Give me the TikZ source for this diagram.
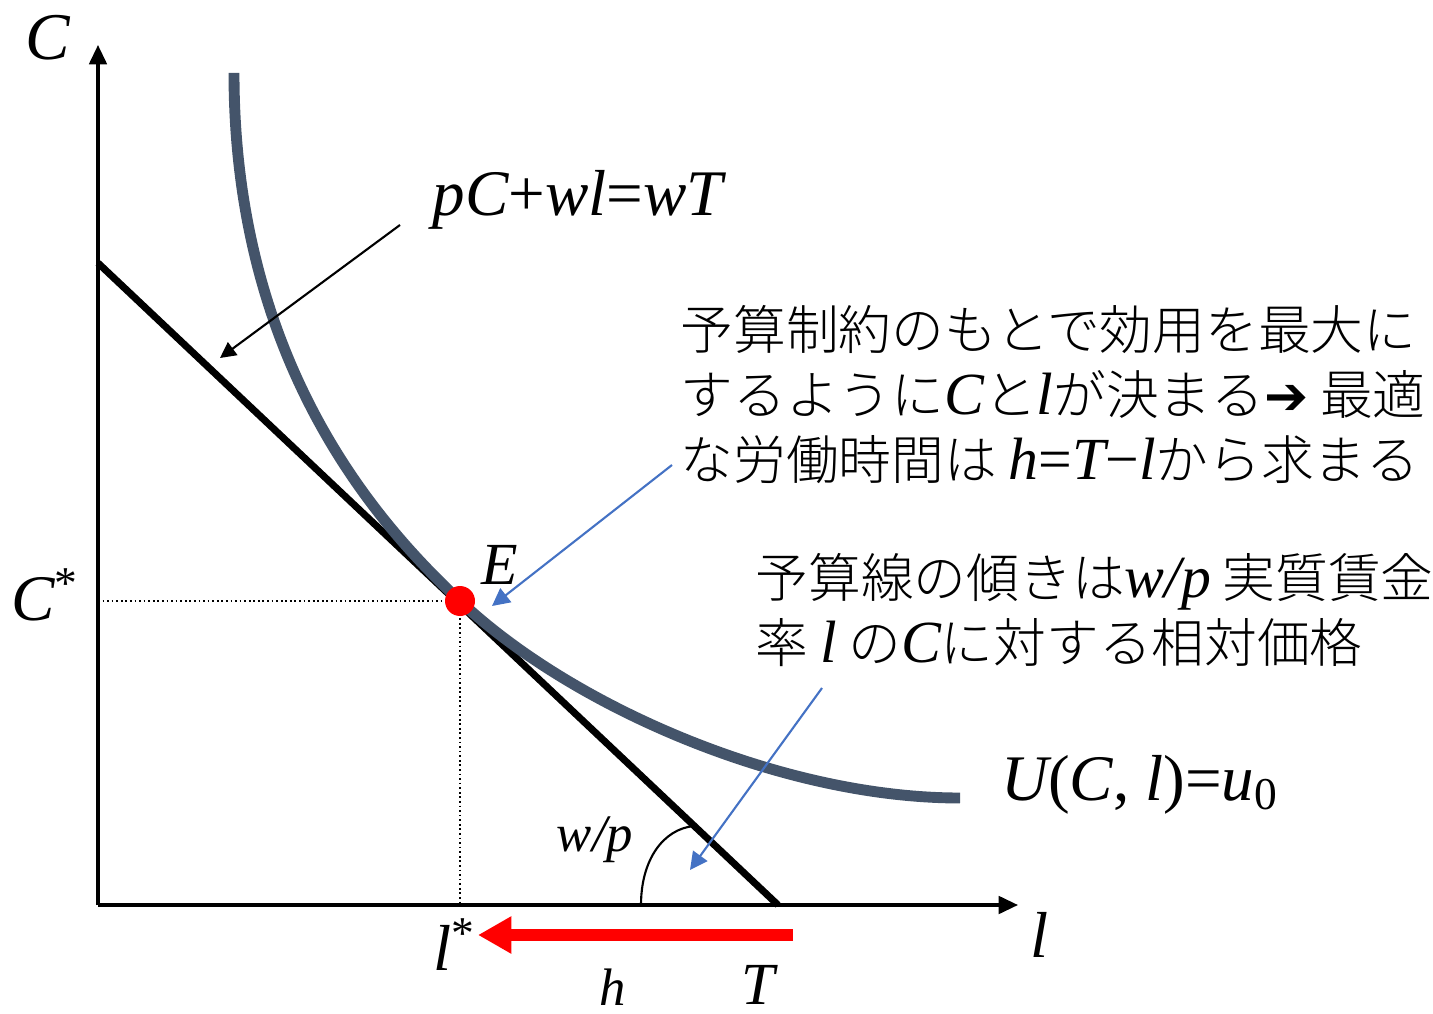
\documentclass[tikz,border=0pt]{standalone}
\usepackage{fontspec}
\setmainfont{Liberation Serif}
\newfontfamily\jp{Noto Sans CJK JP}[UprightFont=* Light]
\newfontfamily\symfont{DejaVu Sans}
\usepackage{tikz}
\usetikzlibrary{arrows.meta}
\definecolor{curvegray}{HTML}{44546A}
\definecolor{noteblue}{HTML}{4472C4}
\newcommand{\mv}[1]{{\rmfamily\itshape\fontsize{17}{18.5}\selectfont #1}}
\newcommand{\mr}[1]{{\rmfamily\fontsize{17}{18.5}\selectfont #1}}

\begin{document}
\begin{tikzpicture}[
		axis/.style={line width=0.9pt, -{Triangle[width=5pt,length=5.5pt]}},
		pointer/.style={line width=0.6pt, -{Triangle[width=4.5pt,length=4.5pt]}},
		bluepointer/.style={noteblue, line width=0.6pt, -{Triangle[width=5pt,length=5pt]}},
		lbl/.style={font=\fontsize{18.5}{18.5}\selectfont\itshape, inner sep=0pt},
		note/.style={font=\jp\fontsize{15}{18.5}\selectfont, align=left, anchor=west, inner sep=0pt}
	]
		\useasboundingbox (-0.98,-1.08) rectangle (13.35,9.05);

		% 軸
		\coordinate (O) at (0,0);
		\coordinate (Ytop) at (0,8.60);
		\coordinate (Xend) at (9.20,0);
		\draw[axis] (O) -- (Ytop);
		\draw[axis] (O) -- (Xend);
		\node[lbl, font=\fontsize{19}{19}\selectfont\itshape] (Clab) at (-0.50,8.67) {C};
		\node[lbl] (llab) at (9.42,-0.30) {l};

		% 予算線
		\coordinate (Bc) at (0,6.42);
		\coordinate (Bt) at (6.80,0);
		\draw[line width=2pt] (Bc) -- (Bt);

		% 無差別曲線
		\coordinate (E) at (3.62,3.04);
		\coordinate (Utop) at (1.36,8.32);
		\coordinate (Uend) at (8.62,1.07);
		\draw[curvegray, line width=3.1pt] (Utop) .. controls (1.36,5.30) and (2.92,3.70) .. (E)
			.. controls (4.72,2.00) and (6.82,1.07) .. (Uend);

		% 均衡点 E
		\coordinate (Ecy) at (0,3.04);
		\coordinate (Elx) at (3.62,0);
		\draw[line width=0.5pt, dash pattern=on 0.5pt off 0.8pt] (Ecy) -- (E) -- (Elx);
		\fill[red] (E) circle (0.15);
		\node[lbl, font=\fontsize{17}{17}\selectfont\itshape] (Elab) at (4.02,3.40) {E};
		\node[lbl] (Cstar) at (-0.53,3.10) {C\textsuperscript{\upshape *}};
		\node[lbl] (lstar) at (3.57,-0.40) {l\textsuperscript{\upshape *}};
		\node[lbl, font=\fontsize{17}{17}\selectfont\itshape] (Tlab) at (6.60,-0.80) {T};

		% 労働時間 h
		\coordinate (Hs) at (6.95,-0.30);
		\coordinate (Hl) at (3.80,-0.30);
		\draw[red, line width=3.2pt, -{Triangle[width=10pt,length=9.5pt]}] (Hs) -- (Hl);
		\node[lbl, font=\fontsize{15}{15}\selectfont\itshape] (hlab) at (5.15,-0.82) {h};

		% 傾き
		\draw[line width=0.6pt] (5.43,0) .. controls (5.43,0.45) and (5.65,0.76) .. (5.96,0.79);
		\node[lbl, font=\fontsize{15}{15}\selectfont\itshape] (wplab) at (4.97,0.65) {w/p};

		% 式のラベル
		\node[lbl] (budget) at (4.80,7.05) {pC{\upshape +}wl{\upshape =}wT};
		\coordinate (bs) at (3.02,6.80);
		\coordinate (bt) at (1.22,5.47);
		\draw[pointer] (bs) -- (bt);
		\node[lbl] (ulab) at (10.42,1.20) {U{\upshape (}C{\upshape ,} l{\upshape )=}u{\upshape\textsubscript{0}}};

		% 説明文
		\node[note] (maxnote) at (5.82,5.10) {予算制約のもとで効用を最大に\\するように\mv{C}と\mv{l}が決まる{\symfont\bfseries ➔} 最適\\な労働時間は \mv{h}\mr{=}\mv{T}\mr{−}\mv{l}から求まる};
		\coordinate (ms) at (5.74,4.40);
		\coordinate (mt) at (3.94,2.99);
		\draw[bluepointer] (ms) -- (mt);

		\node[note] (slopenote) at (6.57,2.95) {予算線の傾きは\mv{w/p} 実質賃金\\率 \mv{l} の\mv{C}に対する相対価格};
		\coordinate (ss) at (7.24,2.17);
		\coordinate (st) at (5.92,0.35);
		\draw[bluepointer] (ss) -- (st);
	\end{tikzpicture}
\end{document}
